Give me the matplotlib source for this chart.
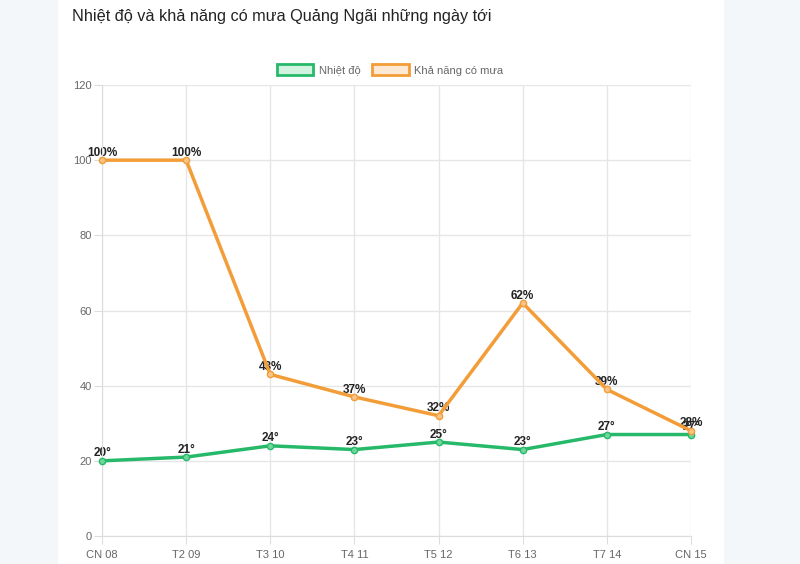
import matplotlib.pyplot as plt
from matplotlib.patches import Patch, Rectangle

# Dữ liệu
days = ["CN 08", "T2 09", "T3 10", "T4 11", "T5 12", "T6 13", "T7 14", "CN 15"]
temp = [20, 21, 24, 23, 25, 23, 27, 27]
rain = [100, 100, 43, 37, 32, 62, 39, 28]
yticks = [0, 20, 40, 60, 80, 100, 120]

green = "#27b96a"
orange = "#f29d38"

plt.rcParams['font.family'] = ['Liberation Sans', 'DejaVu Sans']

fig = plt.figure(figsize=(8, 5.64), dpi=100)
fig.patch.set_facecolor("#f4f7f9")
# khung trắng phía sau
fig.patches.append(Rectangle((58 / 800, 0), (724 - 58) / 800, 1, transform=fig.transFigure,
                             facecolor="white", edgecolor="none", zorder=-5))

ax = fig.add_axes([102 / 800, 1 - 536 / 564, (691 - 102) / 800, (536 - 85) / 564])
ax.set_facecolor("none")
ax.set_zorder(2)

x = list(range(len(days)))
ax.plot(x, temp, color=green, lw=2.5, marker="o", ms=4.5, mfc="#6fd79c", mec=green, zorder=3,
        clip_on=False)
ax.plot(x, rain, color=orange, lw=2.5, marker="o", ms=4.5, mfc="#f8c48a", mec=orange, zorder=3,
        clip_on=False)

# nhãn giá trị (nằm dưới đường)
for xi, t in zip(x, temp):
    ax.annotate(f"{t}°", (xi, t), xytext=(0, 1), textcoords="offset points",
                ha="center", va="bottom", fontsize=8.5, fontweight="bold", color="#222222", zorder=2)
for xi, r in zip(x, rain):
    ax.annotate(f"{r}%", (xi, r), xytext=(0, 1), textcoords="offset points",
                ha="center", va="bottom", fontsize=8.5, fontweight="bold", color="#222222", zorder=2)

ax.set_xlim(0, len(days) - 1)
ax.set_ylim(0, 120)
ax.set_xticks(x)
ax.set_xticklabels(days)
ax.set_yticks(yticks)
ax.grid(True, color="#e6e6e6", lw=1)
ax.set_axisbelow(True)
for s in ax.spines.values():
    s.set_visible(False)
ax.spines["left"].set_visible(True)
ax.spines["bottom"].set_visible(True)
ax.spines["left"].set_color("#dddddd")
ax.spines["bottom"].set_color("#dddddd")
ax.tick_params(axis="both", colors="#dddddd", labelcolor="#666666", labelsize=8, length=6)
ax.tick_params(axis="y", pad=1.5)
ax.tick_params(axis="x", pad=4)

fig.text(72 / 800, 1 - 17 / 564, "Nhiệt độ và khả năng có mưa Quảng Ngãi những ngày tới",
         fontsize=11.7, color="#222222", va="center", ha="left")

handles = [Patch(facecolor="#d2f3e0", edgecolor=green, lw=2, label="Nhiệt độ"),
           Patch(facecolor="#fde9d3", edgecolor=orange, lw=2, label="Khả năng có mưa")]
fig.legend(handles=handles, loc="center", bbox_to_anchor=(390 / 800, 1 - 70 / 564), ncol=2,
           frameon=False, fontsize=8, labelcolor="#666666", handlelength=3.3, handleheight=1.1,
           columnspacing=1.0, handletextpad=0.5)

fig.savefig("out.png", dpi=100, facecolor=fig.get_facecolor())
